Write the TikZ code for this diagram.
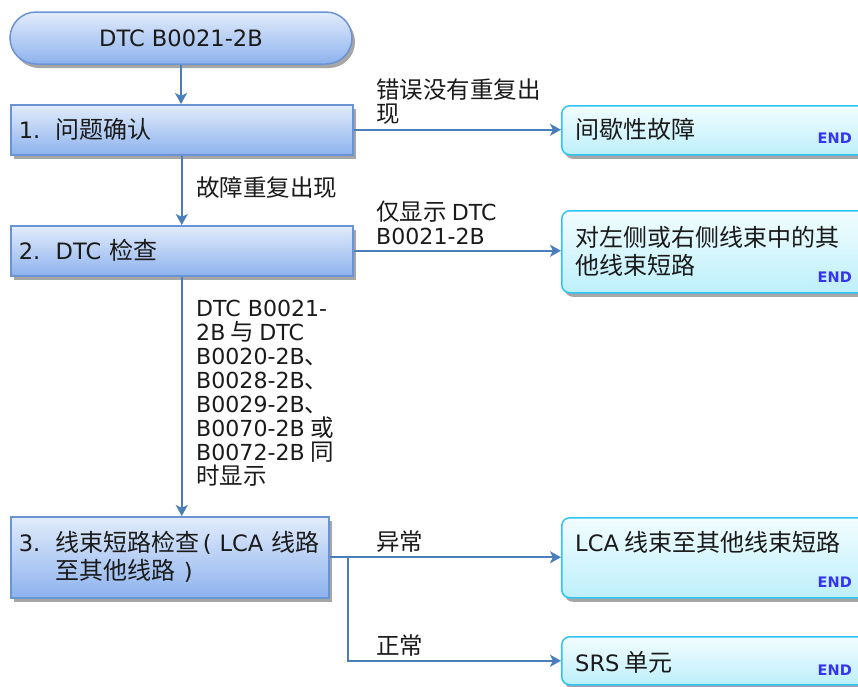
\documentclass[tikz,border=0pt]{standalone}
\usepackage{fontspec}
\setmainfont{Noto Sans CJK SC}
\newfontfamily\latf{DejaVu Sans}[Scale=0.94]
\newfontfamily\endfont{DejaVu Sans}
\usetikzlibrary{arrows.meta,shadows,calc}
\definecolor{stepb}{HTML}{6A93D4}
\definecolor{steptop}{HTML}{E2ECFB}
\definecolor{stepbot}{HTML}{8DB2EE}
\definecolor{endb}{HTML}{2EC5F5}
\definecolor{endtop}{HTML}{F2FDFF}
\definecolor{endbot}{HTML}{BDEFFB}
\definecolor{arrc}{HTML}{4A7EBB}
\definecolor{txt}{HTML}{1A1A1A}
\definecolor{endc}{HTML}{3535F0}
\begin{document}
\begin{tikzpicture}[x=1pt,y=-1pt,
  every node/.style={font=\fontsize{24}{28}\selectfont, text=txt},
  shd/.style={drop shadow={shadow xshift=3pt,shadow yshift=-4pt,fill=black,opacity=0.35}},
  startbox/.style={draw=stepb,line width=1.5pt,top color=steptop,bottom color=stepbot,shd,
    rounded corners=26pt,minimum width=342pt,minimum height=52pt,inner sep=0pt},
  stepbox/.style={draw=stepb,line width=1.5pt,top color=steptop,bottom color=stepbot,shd,
    anchor=north west,inner xsep=8pt,inner ysep=0pt,align=left,minimum height=50pt},
  endbox/.style={draw=endb,line width=1.5pt,top color=endtop,bottom color=endbot,shd,
    rounded corners=8pt,anchor=north west,minimum width=310pt,inner sep=0pt},
  etext/.style={anchor=west,inner sep=0pt,align=left},
  endlbl/.style={anchor=base east,inner sep=0pt,text=endc,font=\endfont\bfseries\fontsize{14.5}{16}\selectfont},
  lbl/.style={anchor=west,inner sep=0pt,align=left,font=\fontsize{23.5}{24}\selectfont},
  arr/.style={draw=arrc,line width=2pt,-{Stealth[length=11pt,width=12pt,inset=3pt]}}
]
\useasboundingbox (0,0) rectangle (858,686);
\clip (0,0) rectangle (858,686);

% start
\node[startbox] (s) at (181,38) {\latf DTC B0021-2B};

% steps
\node[stepbox,text width=326pt] (b1) at (10,104) {\makebox[37pt][l]{\latf 1.}问题确认};
\node[stepbox,text width=326pt] (b2) at (10,225) {\makebox[37pt][l]{\latf 2.}{\latf DTC} 检查};
\node[stepbox,text width=302pt,minimum height=81pt] (b3) at (10,516)
  {\mbox{\makebox[37pt][l]{\latf 3.}线束短路检查\hspace{3pt}{\latf ( LCA} 线路}\\\mbox{\hspace*{37pt}至其他线路{\latf\ )}}};

% end boxes
\node[endbox,minimum height=49pt] (e1) at (561,105) {};
\node[endbox,minimum height=82pt] (e2) at (561,210) {};
\node[endbox,minimum height=80pt] (e3) at (561,517) {};
\node[endbox,minimum height=48pt] (e4) at (561,636) {};

\node[etext] (t1) at (575,129) {间歇性故障};
\node[etext] (t2) at (575,251) {对左侧或右侧线束中的其\\他线束短路};
\node[etext] (t3) at (575,542) {{\latf LCA} 线束至其他线束短路};
\node[etext] (t4) at (575,662) {{\latf SRS} 单元};

\node[endlbl] (n1) at (852,143) {END};
\node[endlbl] (n2) at (852,282) {END};
\node[endlbl] (n3) at (852,587) {END};
\node[endlbl] (n4) at (852,675) {END};

% connectors
\draw[arr] (s.south) -- (s.south |- b1.north);
\draw[arr] (b1.south) -- (b1.south |- b2.north);
\draw[arr] (b2.south) -- (b2.south |- b3.north);
\draw[arr] (b1.east) -- (b1.east -| e1.west);
\draw[arr] (b2.east) -- (b2.east -| e2.west);
\draw[arr] (b3.east) -- (b3.east -| e3.west);
\coordinate (br) at (348,556);
\draw[arr] (br |- b3.east) |- (e4.west);

% labels
\node[lbl] (l1) at (376,102) {错误没有重复出\\现};
\node[lbl] (l2) at (376,223) {仅显示 {\latf DTC}\\{\latf B0021-2B}};
\node[lbl] (l3) at (196,188) {故障重复出现};
\node[lbl] (l4) at (196,393) {{\latf DTC B0021-}\\{\latf 2B} 与 {\latf DTC}\\{\latf B0020-2B}、\\{\latf B0028-2B}、\\{\latf B0029-2B}、\\{\latf B0070-2B} 或\\{\latf B0072-2B} 同\\时显示};
\node[lbl] (l5) at (376,542) {异常};
\node[lbl] (l6) at (376,646) {正常};
\end{tikzpicture}
\end{document}
